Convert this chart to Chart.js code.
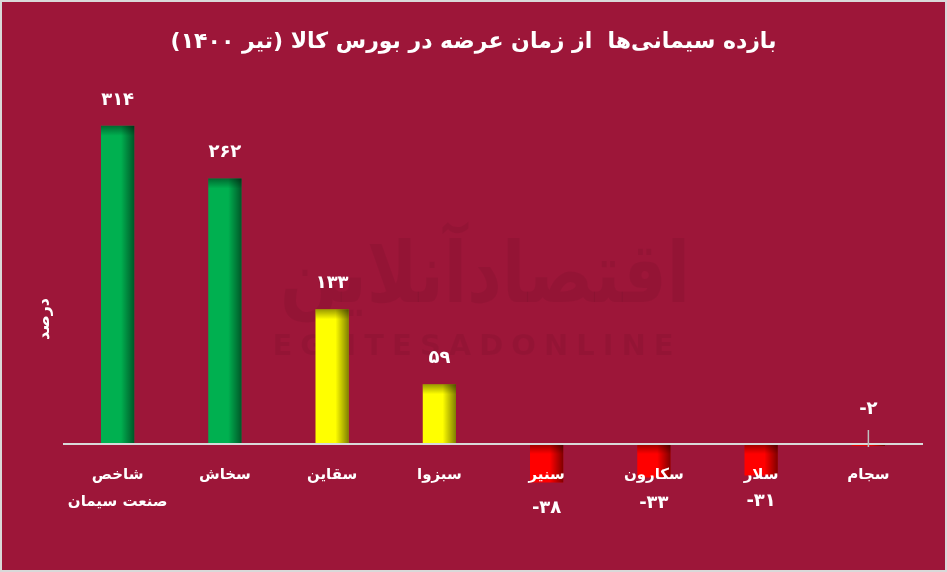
<!DOCTYPE html>
<html><head><meta charset="utf-8">
<script src="https://cdn.jsdelivr.net/npm/chart.js@4"></script>
<style>
html,body{margin:0;padding:0;background:#9D1639;}
#wrap{position:absolute;left:0;top:0;width:947px;height:572px;box-sizing:border-box;border:2px solid #D9D9D9;background:#9D1639;}
canvas{display:block;}
</style></head><body>
<div id="wrap"><canvas id="c" width="943" height="568"></canvas></div>
<script>
// ---- data ----
const titleText = 'بازده سیمانی‌ها  از زمان عرضه در بورس کالا (تیر ۱۴۰۰)';
const yAxisTitle = 'درصد';
const categories = [['شاخص', 'صنعت سیمان'], 'سخاش', 'سقاین', 'سبزوا', 'سنیر', 'سکارون', 'سلار', 'سجام'];
const returns = [314, 262, 133, 59, -38, -33, -31, -2];
const barColors = ['#00B050', '#00B050', '#FFFF00', '#FFFF00', '#FF0000', '#FF0000', '#FF0000', '#FF0000'];
const watermarkFa = 'اقتصادآنلاین';
const watermarkEn = 'EGHTESADONLINE';

const FONT = '"DejaVu Sans", "Noto Sans", sans-serif';
const faDigits = '۰۱۲۳۴۵۶۷۸۹';
const toFa = v => (v < 0 ? '-' : '') + String(Math.abs(v)).replace(/\d/g, d => faDigits[d]);

const watermarkPlugin = {
  id: 'watermark',
  beforeDatasetsDraw(chart) {
    const ctx = chart.ctx;
    ctx.save();
    ctx.fillStyle = 'rgba(0,0,0,0.055)';
    ctx.textAlign = 'center';
    ctx.textBaseline = 'middle';
    ctx.font = 'bold 84px ' + FONT;
    ctx.fillText(watermarkFa, 483, 278, 410);
    ctx.font = 'bold 29px ' + FONT;
    if ('letterSpacing' in ctx) ctx.letterSpacing = '8px';
    ctx.fillText(watermarkEn, 475, 345, 420);
    ctx.restore();
  }
};

const yTitlePlugin = {
  id: 'yTitle',
  afterDraw(chart) {
    const ctx = chart.ctx;
    ctx.save();
    ctx.translate(43, 317);
    ctx.rotate(-Math.PI / 2);
    ctx.fillStyle = '#FFFFFF';
    ctx.font = 'bold 16px ' + FONT;
    ctx.textAlign = 'center';
    ctx.textBaseline = 'middle';
    ctx.fillText(yAxisTitle, 0, 0);
    ctx.restore();
  }
};

const shadePlugin = {
  id: 'shade',
  afterDatasetsDraw(chart) {
    const ctx = chart.ctx;
    const meta = chart.getDatasetMeta(0);
    ctx.save();
    meta.data.forEach((bar) => {
      const w = bar.width;
      const x0 = bar.x - w / 2, x1 = bar.x + w / 2;
      const top = Math.min(bar.y, bar.base), bot = Math.max(bar.y, bar.base);
      const h = bot - top;
      if (h <= 0) return;
      let g = ctx.createLinearGradient(x0, 0, x1, 0);
      g.addColorStop(0, 'rgba(0,0,0,0)');
      g.addColorStop(0.6, 'rgba(0,0,0,0)');
      g.addColorStop(1, 'rgba(0,0,0,0.5)');
      ctx.fillStyle = g;
      ctx.fillRect(x0, top, w, h);
      const sh = Math.min(10, h);
      g = ctx.createLinearGradient(0, top, 0, top + sh);
      g.addColorStop(0, 'rgba(0,0,0,0.4)');
      g.addColorStop(1, 'rgba(0,0,0,0)');
      ctx.fillStyle = g;
      ctx.fillRect(x0, top, w, sh);
    });
    ctx.restore();
  }
};

const labelPlugin = {
  id: 'valueLabels',
  afterDraw(chart) {
    const ctx = chart.ctx;
    const meta = chart.getDatasetMeta(0);
    ctx.save();
    ctx.fillStyle = '#FFFFFF';
    ctx.font = 'bold 18px ' + FONT;
    ctx.textAlign = 'center';
    ctx.textBaseline = 'middle';
    meta.data.forEach((bar, i) => {
      const v = returns[i];
      const hpx = Math.abs(bar.base - bar.y);
      let y;
      if (hpx < 10) {
        y = bar.base - 35;
        ctx.strokeStyle = '#BFBFBF';
        ctx.lineWidth = 1.5;
        ctx.beginPath();
        ctx.moveTo(bar.x, bar.base - 14);
        ctx.lineTo(bar.x, bar.base + 3);
        ctx.stroke();
      } else if (v >= 0) {
        y = bar.y - 26;
      } else {
        y = bar.y + 26;
      }
      ctx.fillText(toFa(v), bar.x, y);
    });
    ctx.restore();
  }
};

new Chart(document.getElementById('c'), {
  type: 'bar',
  data: {
    labels: categories,
    datasets: [{
      data: returns,
      backgroundColor: barColors,
      borderWidth: 0,
      barPercentage: 0.31,
      categoryPercentage: 1,
      clip: false
    }]
  },
  options: {
    responsive: false,
    animation: false,
    layout: { padding: { left: 23, right: 23, top: 0, bottom: 0 } },
    plugins: {
      legend: { display: false },
      tooltip: { enabled: false },
      title: {
        display: true,
        text: titleText,
        color: '#FFFFFF',
        font: { family: FONT, size: 22, weight: 'bold', lineHeight: 1.2 },
        padding: { top: 27, bottom: 34 }
      }
    },
    scales: {
      x: {
        grid: { display: false, drawTicks: false },
        border: { display: true, color: '#D9D9D9', width: 2, z: 1 },
        ticks: {
          z: 1,
          color: '#FFFFFF',
          padding: 18,
          maxRotation: 0,
          autoSkip: false,
          font: { family: FONT, size: 15, weight: 'bold', lineHeight: 1.8 }
        },
        afterFit(scale) { scale.height = 126; }
      },
      y: {
        min: 0,
        max: 350,
        grid: { display: false, drawTicks: false },
        border: { display: false },
        ticks: { display: false },
        afterFit(scale) { scale.width = 39; }
      }
    }
  },
  plugins: [watermarkPlugin, shadePlugin, labelPlugin, yTitlePlugin]
});
</script>
</body></html>
